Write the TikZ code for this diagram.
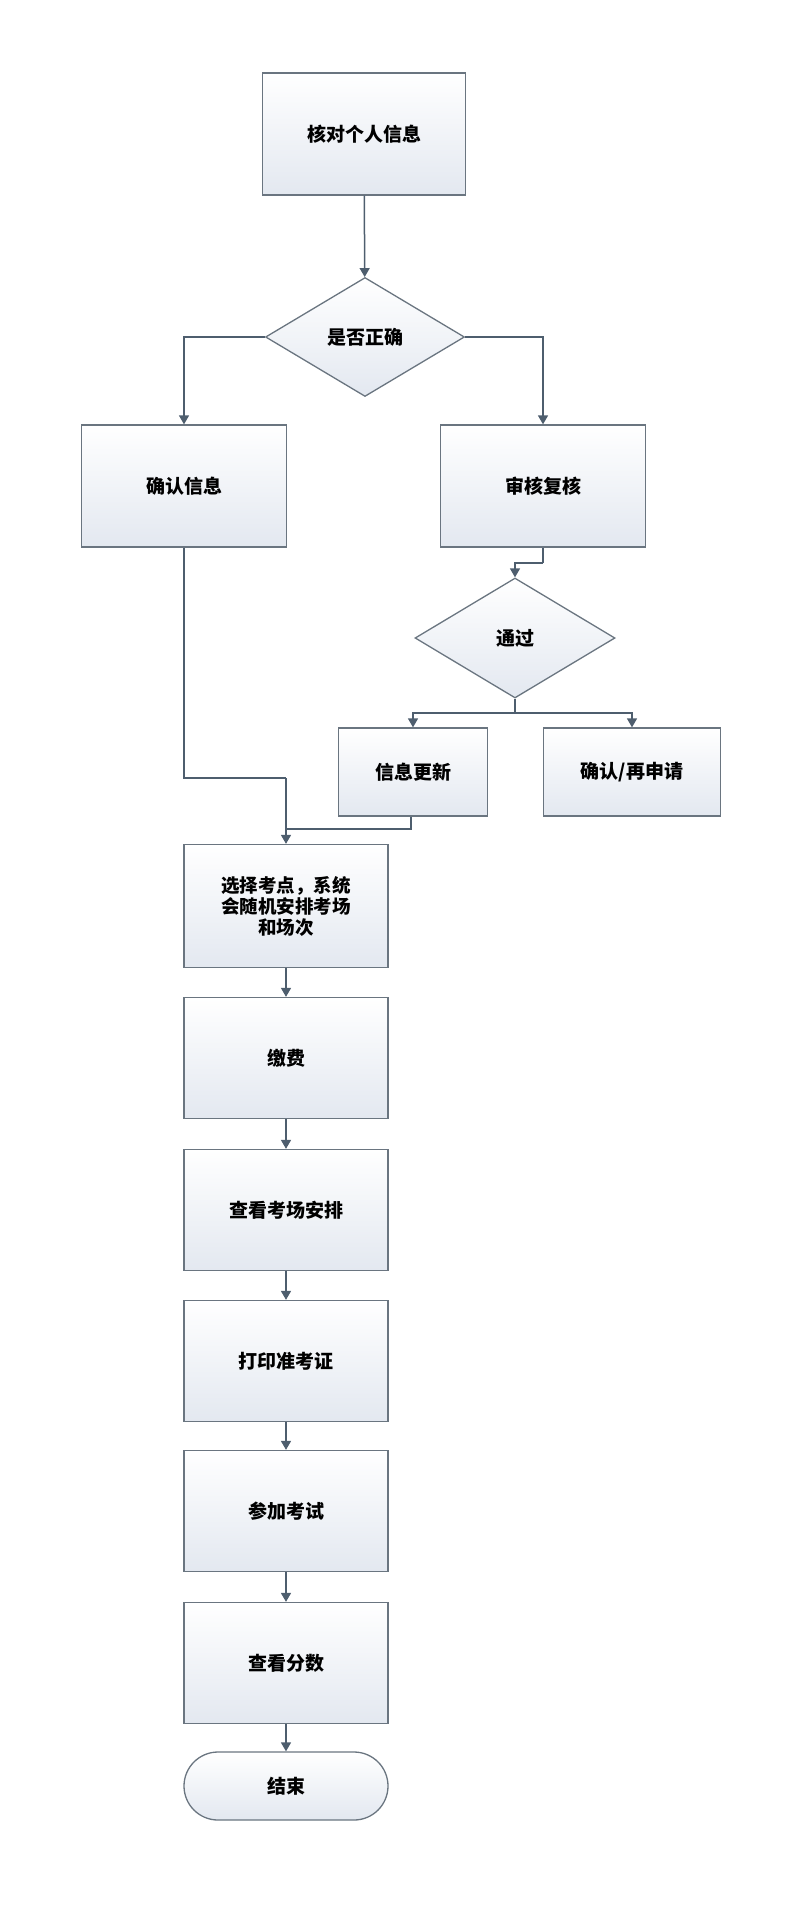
\documentclass[tikz,border=0pt]{standalone}
\usepackage{fontspec}
\setmainfont{Noto Sans CJK SC}
\usetikzlibrary{shapes.geometric,arrows.meta,shadings}
\definecolor{bd}{HTML}{6A7580}
\definecolor{ln}{HTML}{4E5E6E}
\definecolor{fb}{HTML}{E3E8F0}
\tikzset{
  base/.style={draw=bd,line width=1.3pt,top color=white,bottom color=fb,font=\fontsize{19}{23}\selectfont\bfseries,align=center,inner sep=0pt},
  box/.style={base,rectangle},
  dia/.style={base,diamond},
  term/.style={base,rounded rectangle},
  arr/.style={draw=ln,line width=1.5pt,-{Triangle[length=9pt,width=10pt]}},
  lin/.style={draw=ln,line width=1.5pt}
}
\usetikzlibrary{shapes.misc}
\begin{document}
\begin{tikzpicture}[x=1pt,y=-1pt]
\useasboundingbox (0,0) rectangle (806,1924);
\node[box,minimum width=203pt,minimum height=122pt] (a) at (364,134) {核对个人信息};
\node[dia,minimum width=199pt,minimum height=119pt,aspect=1.67] (d1) at (365,337) {是否正确};
\node[box,minimum width=205pt,minimum height=122pt] (c) at (184,486) {确认信息};
\node[box,minimum width=205pt,minimum height=122pt] (r) at (543,486) {审核复核};
\node[dia,minimum width=200pt,minimum height=120pt,aspect=1.67] (d2) at (515,638) {通过};
\node[box,minimum width=149pt,minimum height=88pt] (u) at (413,772) {信息更新};
\node[box,minimum width=177pt,minimum height=88pt] (q) at (632,772) {确认/再申请};
\node[box,minimum width=204pt,minimum height=123pt,font=\fontsize{18.5}{21}\selectfont\bfseries] (s) at (286,906) {选择考点，系统\\会随机安排考场\\和场次};
\node[box,minimum width=204pt,minimum height=121pt] (f) at (286,1058) {缴费};
\node[box,minimum width=204pt,minimum height=121pt] (v) at (286,1210) {查看考场安排};
\node[box,minimum width=204pt,minimum height=121pt] (p) at (286,1361) {打印准考证};
\node[box,minimum width=204pt,minimum height=121pt] (e) at (286,1511) {参加考试};
\node[box,minimum width=204pt,minimum height=121pt] (g) at (286,1663) {查看分数};
\node[term,minimum width=204pt,minimum height=68pt] (z) at (286,1786) {结束};
\draw[arr] (a) -- (d1);
\draw[arr] (d1.west) -| (c.north);
\draw[arr] (d1.east) -| (r.north);
\coordinate (rj) at (543,563);
\draw[lin] (r.south) -- (rj);
\draw[arr] (rj) -| (d2.north);
\coordinate (bj) at (515,713);
\draw[lin] (d2.south) -- (bj);
\draw[arr] (bj) -| (u.north);
\draw[arr] (bj) -| (q.north);
\coordinate (cj) at (184,778);
\coordinate (mj) at (286,778);
\draw[lin] (c.south) -- (cj) -- (mj);
\coordinate (uj) at (411,829);
\coordinate (uj2) at (286,829);
\draw[lin] (u.south -| uj) -- (uj) -- (uj2);
\draw[arr] (mj) -- (s.north);
\draw[arr] (s) -- (f);
\draw[arr] (f) -- (v);
\draw[arr] (v) -- (p);
\draw[arr] (p) -- (e);
\draw[arr] (e) -- (g);
\draw[arr] (g) -- (z);
\end{tikzpicture}
\end{document}
